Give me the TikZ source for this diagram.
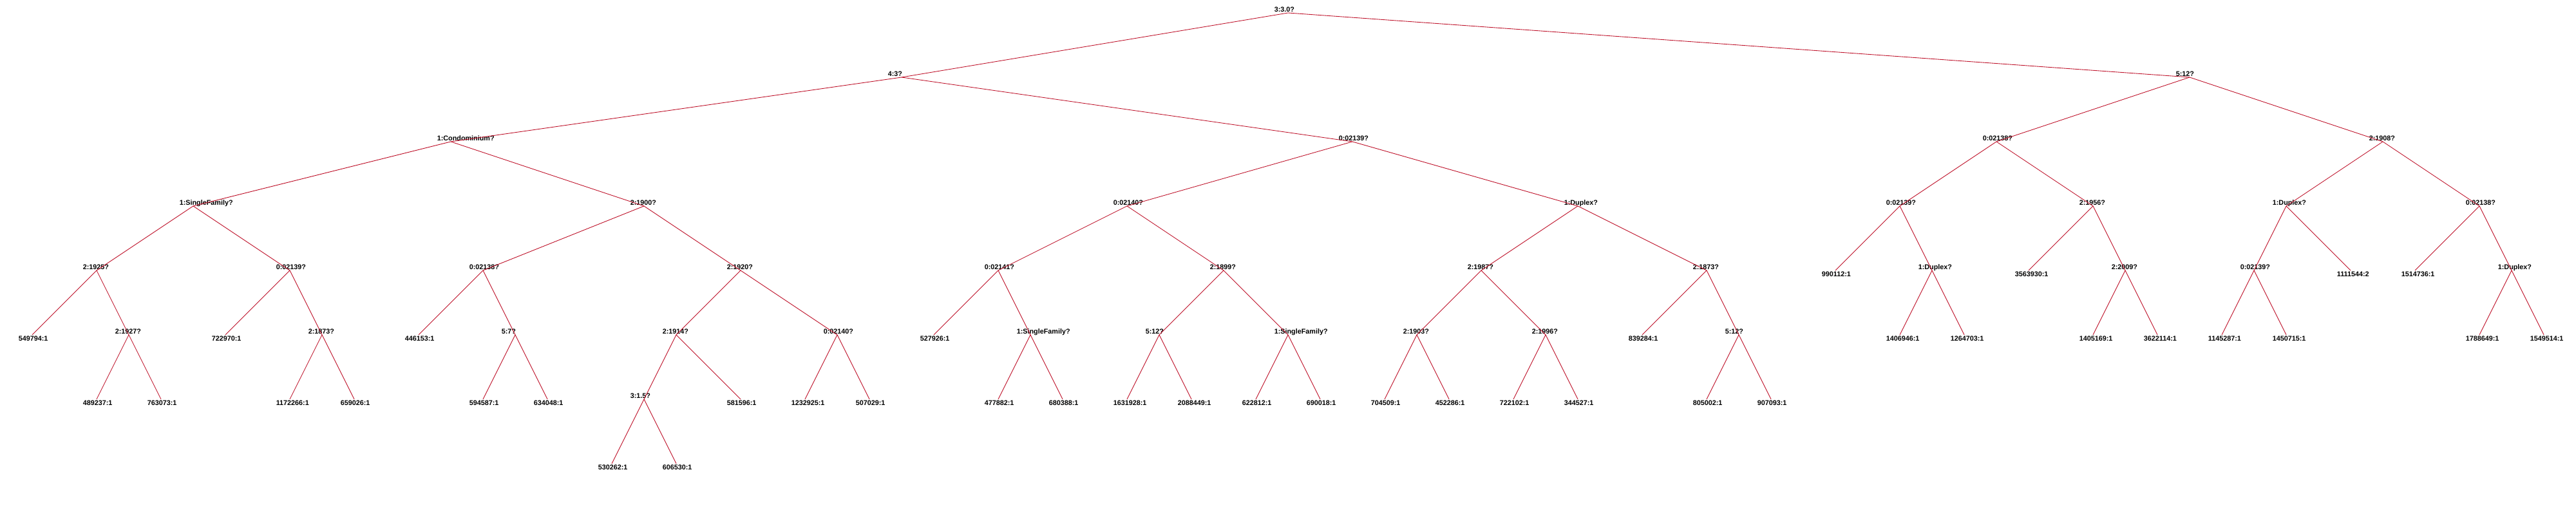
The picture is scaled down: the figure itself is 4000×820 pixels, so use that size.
\documentclass[tikz,border=0pt]{standalone}
\usepackage{fontspec}
\setmainfont{Liberation Sans}
\definecolor{edgered}{RGB}{190,16,40}
\tikzset{
  ilab/.style={anchor=base west, xshift=-5.5pt, yshift=0.25pt, inner sep=0pt, font=\bfseries\fontsize{2.7pt}{3pt}\selectfont},
  llab/.style={anchor=north west, xshift=-5.5pt, yshift=-0.4pt, inner sep=0pt, font=\bfseries\fontsize{2.7pt}{3pt}\selectfont},
  edge/.style={draw=edgered, line width=0.22pt}
}
\newcommand{\mkint}[4]{\coordinate (#1) at (#2,#3); \node[ilab] (#1t) at (#1) {#4};}
\newcommand{\mkleaf}[4]{\coordinate (#1) at (#2,#3); \node[llab] (#1t) at (#1) {#4};}
\newcommand{\E}[2]{\draw[edge] (#1) -- (#2);}
\begin{document}
\begin{tikzpicture}[x=0.25pt,y=-0.25pt]
\useasboundingbox (0,0) rectangle (4000,820);
\fill[white] (0,0) rectangle (4000,820);
% depth 0-1
\mkint{r}{2000}{20}{3:3.0?}
\mkint{a}{1400}{120}{4:3?}
\mkint{b}{3400}{120}{5:12?}
% depth 2
\mkint{aa}{700}{220}{1:Condominium?}
\mkint{ab}{2100}{220}{0:02139?}
\mkint{ba}{3100}{220}{0:02138?}
\mkint{bb}{3700}{220}{2:1908?}
% depth 3
\mkint{aaa}{300}{320}{1:SingleFamily?}
\mkint{aab}{1000}{320}{2:1900?}
\mkint{aba}{1750}{320}{0:02140?}
\mkint{abb}{2450}{320}{1:Duplex?}
\mkint{baa}{2950}{320}{0:02139?}
\mkint{bab}{3250}{320}{2:1956?}
\mkint{bba}{3550}{320}{1:Duplex?}
\mkint{bbb}{3850}{320}{0:02138?}
% depth 4
\mkint{aaaa}{150}{420}{2:1925?}
\mkint{aaab}{450}{420}{0:02139?}
\mkint{aaba}{750}{420}{0:02138?}
\mkint{aabb}{1150}{420}{2:1920?}
\mkint{abaa}{1550}{420}{0:02141?}
\mkint{abab}{1900}{420}{2:1899?}
\mkint{abba}{2300}{420}{2:1987?}
\mkint{abbb}{2650}{420}{2:1873?}
\mkleaf{baaa}{2850}{420}{990112:1}
\mkint{baab}{3000}{420}{1:Duplex?}
\mkleaf{baba}{3150}{420}{3563930:1}
\mkint{babb}{3300}{420}{2:2009?}
\mkint{bbaa}{3500}{420}{0:02139?}
\mkleaf{bbab}{3650}{420}{1111544:2}
\mkleaf{bbba}{3750}{420}{1514736:1}
\mkint{bbbb}{3900}{420}{1:Duplex?}
% depth 5
\mkleaf{aaaaa}{50}{520}{549794:1}
\mkint{aaaab}{200}{520}{2:1927?}
\mkleaf{aaaba}{350}{520}{722970:1}
\mkint{aaabb}{500}{520}{2:1873?}
\mkleaf{aabaa}{650}{520}{446153:1}
\mkint{aabab}{800}{520}{5:7?}
\mkint{aabba}{1050}{520}{2:1914?}
\mkint{aabbb}{1300}{520}{0:02140?}
\mkleaf{abaaa}{1450}{520}{527926:1}
\mkint{abaab}{1600}{520}{1:SingleFamily?}
\mkint{ababa}{1800}{520}{5:12?}
\mkint{ababb}{2000}{520}{1:SingleFamily?}
\mkint{abbaa}{2200}{520}{2:1903?}
\mkint{abbab}{2400}{520}{2:1996?}
\mkleaf{abbba}{2550}{520}{839284:1}
\mkint{abbbb}{2700}{520}{5:12?}
\mkleaf{baaba}{2950}{520}{1406946:1}
\mkleaf{baabb}{3050}{520}{1264703:1}
\mkleaf{babba}{3250}{520}{1405169:1}
\mkleaf{babbb}{3350}{520}{3622114:1}
\mkleaf{bbaaa}{3450}{520}{1145287:1}
\mkleaf{bbaab}{3550}{520}{1450715:1}
\mkleaf{bbbba}{3850}{520}{1788649:1}
\mkleaf{bbbbb}{3950}{520}{1549514:1}
% depth 6
\mkleaf{aaaaba}{150}{620}{489237:1}
\mkleaf{aaaabb}{250}{620}{763073:1}
\mkleaf{aaabba}{450}{620}{1172266:1}
\mkleaf{aaabbb}{550}{620}{659026:1}
\mkleaf{aababa}{750}{620}{594587:1}
\mkleaf{aababb}{850}{620}{634048:1}
\mkint{aabbaa}{1000}{620}{3:1.5?}
\mkleaf{aabbab}{1150}{620}{581596:1}
\mkleaf{aabbba}{1250}{620}{1232925:1}
\mkleaf{aabbbb}{1350}{620}{507029:1}
\mkleaf{abaaba}{1550}{620}{477882:1}
\mkleaf{abaabb}{1650}{620}{680388:1}
\mkleaf{ababaa}{1750}{620}{1631928:1}
\mkleaf{ababab}{1850}{620}{2088449:1}
\mkleaf{ababba}{1950}{620}{622812:1}
\mkleaf{ababbb}{2050}{620}{690018:1}
\mkleaf{abbaaa}{2150}{620}{704509:1}
\mkleaf{abbaab}{2250}{620}{452286:1}
\mkleaf{abbaba}{2350}{620}{722102:1}
\mkleaf{abbabb}{2450}{620}{344527:1}
\mkleaf{abbbba}{2650}{620}{805002:1}
\mkleaf{abbbbb}{2750}{620}{907093:1}
% depth 7
\mkleaf{aabbaaa}{950}{720}{530262:1}
\mkleaf{aabbaab}{1050}{720}{606530:1}
% edges
\E{r}{a}\E{r}{b}
\E{a}{aa}\E{a}{ab}\E{b}{ba}\E{b}{bb}
\E{aa}{aaa}\E{aa}{aab}\E{ab}{aba}\E{ab}{abb}
\E{ba}{baa}\E{ba}{bab}\E{bb}{bba}\E{bb}{bbb}
\E{aaa}{aaaa}\E{aaa}{aaab}\E{aab}{aaba}\E{aab}{aabb}
\E{aba}{abaa}\E{aba}{abab}\E{abb}{abba}\E{abb}{abbb}
\E{baa}{baaa}\E{baa}{baab}\E{bab}{baba}\E{bab}{babb}
\E{bba}{bbaa}\E{bba}{bbab}\E{bbb}{bbba}\E{bbb}{bbbb}
\E{aaaa}{aaaaa}\E{aaaa}{aaaab}\E{aaab}{aaaba}\E{aaab}{aaabb}
\E{aaba}{aabaa}\E{aaba}{aabab}\E{aabb}{aabba}\E{aabb}{aabbb}
\E{abaa}{abaaa}\E{abaa}{abaab}\E{abab}{ababa}\E{abab}{ababb}
\E{abba}{abbaa}\E{abba}{abbab}\E{abbb}{abbba}\E{abbb}{abbbb}
\E{baab}{baaba}\E{baab}{baabb}\E{babb}{babba}\E{babb}{babbb}
\E{bbaa}{bbaaa}\E{bbaa}{bbaab}\E{bbbb}{bbbba}\E{bbbb}{bbbbb}
\E{aaaab}{aaaaba}\E{aaaab}{aaaabb}\E{aaabb}{aaabba}\E{aaabb}{aaabbb}
\E{aabab}{aababa}\E{aabab}{aababb}\E{aabba}{aabbaa}\E{aabba}{aabbab}
\E{aabbb}{aabbba}\E{aabbb}{aabbbb}
\E{abaab}{abaaba}\E{abaab}{abaabb}\E{ababa}{ababaa}\E{ababa}{ababab}
\E{ababb}{ababba}\E{ababb}{ababbb}\E{abbaa}{abbaaa}\E{abbaa}{abbaab}
\E{abbab}{abbaba}\E{abbab}{abbabb}\E{abbbb}{abbbba}\E{abbbb}{abbbbb}
\E{aabbaa}{aabbaaa}\E{aabbaa}{aabbaab}
\end{tikzpicture}
\end{document}
